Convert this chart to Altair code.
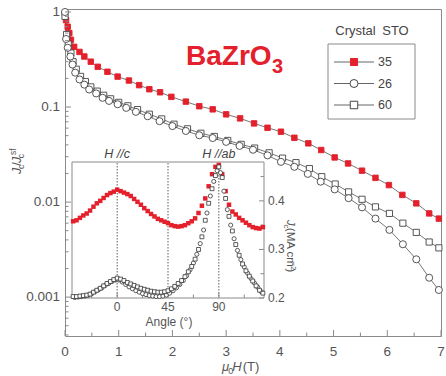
import altair as alt
import pandas as pd

# ---- field dependence of Jc / Jc(self-field), 77 K, H || c ----
red_B = [0, 0.02, 0.05, 0.08, 0.11, 0.17, 0.27, 0.36, 0.48, 0.61,
         0.79, 0.98, 1.19, 1.38, 1.57, 1.77, 1.98, 2.25, 2.5, 2.75,
         3.0, 3.26, 3.52, 3.77, 4.02, 4.27, 4.53, 4.77, 5.02, 5.27,
         5.53, 5.78, 6.03, 6.28, 6.54, 6.78, 6.96]
red_J = [0.97, 0.82, 0.70, 0.60, 0.51, 0.43, 0.38, 0.34, 0.30, 0.265,
         0.235, 0.209, 0.19, 0.17, 0.154, 0.143, 0.128, 0.114, 0.102, 0.0946,
         0.0838, 0.076, 0.0673, 0.0605, 0.055, 0.0475, 0.0415, 0.0353, 0.0295, 0.0255,
         0.0214, 0.018, 0.0151, 0.0119, 0.0097, 0.0076, 0.0067]

c26_B = [0, 0.02, 0.05, 0.1, 0.14, 0.19, 0.27, 0.36, 0.45, 0.58,
         0.7, 0.82, 0.98, 1.14, 1.32, 1.54, 1.76, 2.0, 2.25, 2.5,
         2.75, 3.0, 3.25, 3.5, 3.77, 4.02, 4.27, 4.52, 4.76, 5.02,
         5.28, 5.53, 5.78, 6.04, 6.29, 6.54, 6.78, 6.96]
c26_J = [1.0, 0.52, 0.42, 0.34, 0.28, 0.23, 0.195, 0.172, 0.153, 0.139,
         0.125, 0.116, 0.107, 0.098, 0.089, 0.08, 0.071, 0.063, 0.056, 0.0505,
         0.0472, 0.043, 0.039, 0.0355, 0.031, 0.0265, 0.0235, 0.0198, 0.0164, 0.0136,
         0.011, 0.0088, 0.0067, 0.0051, 0.0036, 0.0025, 0.0016, 0.00119]

s60_B = [0, 0.03, 0.06, 0.11, 0.15, 0.21, 0.29, 0.38, 0.48, 0.6,
         0.72, 0.85, 1.0, 1.17, 1.35, 1.57, 1.8, 2.03, 2.28, 2.53,
         2.78, 3.03, 3.28, 3.53, 3.8, 4.05, 4.3, 4.55, 4.78, 5.03,
         5.28, 5.53, 5.78, 6.04, 6.29, 6.54, 6.78, 6.96]
s60_J = [0.9, 0.58, 0.46, 0.37, 0.30, 0.25, 0.21, 0.185, 0.163, 0.147,
         0.133, 0.122, 0.112, 0.103, 0.094, 0.084, 0.075, 0.066, 0.059, 0.053,
         0.049, 0.0445, 0.0405, 0.037, 0.033, 0.029, 0.026, 0.0225, 0.0185, 0.0155,
         0.0128, 0.0107, 0.0089, 0.0076, 0.006, 0.0048, 0.0038, 0.0033]

# ---- angular dependence of Jc (MA cm^-2), inset ----
ang_red = [-39, -36, -33, -30, -27, -24, -21, -18, -15, -12, -9, -6, -3, 0, 3, 6, 9, 12, 15,
           18, 21, 24, 27, 30, 33, 36, 39, 42, 45, 48, 51, 54, 57, 60, 63, 66, 69, 72, 75,
           78, 81, 84, 87, 90, 93, 96, 99, 102, 105, 108, 111, 114, 117, 120, 123, 126, 129]
jc_red = [0.358, 0.360, 0.365, 0.370, 0.374, 0.380, 0.388, 0.395, 0.400, 0.406, 0.412, 0.416,
          0.419, 0.423, 0.420, 0.417, 0.414, 0.410, 0.404, 0.398, 0.392, 0.385, 0.379, 0.373,
          0.368, 0.363, 0.360, 0.357, 0.354, 0.350, 0.348, 0.347, 0.348, 0.350, 0.354, 0.358,
          0.364, 0.375, 0.390, 0.405, 0.430, 0.455, 0.470, 0.474, 0.455, 0.420, 0.392, 0.378,
          0.372, 0.365, 0.360, 0.355, 0.350, 0.346, 0.344, 0.343, 0.346]
ang_sq = ang_red
jc_sq = [0.203, 0.203, 0.204, 0.205, 0.206, 0.208, 0.212, 0.216, 0.220, 0.225, 0.230, 0.234,
         0.238, 0.241, 0.239, 0.236, 0.232, 0.229, 0.226, 0.223, 0.220, 0.218, 0.216, 0.214,
         0.213, 0.212, 0.212, 0.213, 0.215, 0.219, 0.224, 0.230, 0.236, 0.244, 0.254, 0.265,
         0.280, 0.300, 0.326, 0.360, 0.395, 0.425, 0.452, 0.470, 0.448, 0.405, 0.368, 0.338,
         0.310, 0.288, 0.270, 0.256, 0.245, 0.235, 0.225, 0.216, 0.210]
ang_ci = [-37.5, -34.5, -31.5, -28.5, -25.5, -22.5, -19.5, -16.5, -13.5, -10.5, -7.5, -4.5,
          -1.5, 1.5, 4.5, 7.5, 10.5, 13.5, 16.5, 19.5, 22.5, 25.5, 28.5, 31.5, 34.5, 37.5,
          40.5, 43.5, 46.5, 49.5, 52.5, 55.5, 58.5, 61.5, 64.5, 67.5, 70.5, 73.5, 76.5, 79.5,
          82.5, 85.5, 88.5, 91.5, 94.5, 97.5, 100.5, 103.5, 106.5, 109.5, 112.5, 115.5, 118.5,
          121.5, 124.5, 127.5]
jc_ci = [0.201, 0.202, 0.203, 0.204, 0.206, 0.209, 0.213, 0.217, 0.221, 0.226, 0.230, 0.234,
         0.237, 0.237, 0.233, 0.228, 0.223, 0.219, 0.215, 0.212, 0.209, 0.207, 0.205, 0.204,
         0.203, 0.203, 0.204, 0.206, 0.210, 0.215, 0.221, 0.228, 0.236, 0.246, 0.258, 0.272,
         0.290, 0.312, 0.340, 0.375, 0.410, 0.440, 0.462, 0.458, 0.420, 0.382, 0.350, 0.322,
         0.298, 0.279, 0.264, 0.251, 0.240, 0.231, 0.222, 0.213]

# ---- axis tick values / labels ----
x_major = [0, 1, 2, 3, 4, 5, 6, 7]
x_labels = ["0", "1", "2", "3", "4", "5", "6", "7"]
x_minor = [0.5, 1.5, 2.5, 3.5, 4.5, 5.5, 6.5]
y_major = [0.001, 0.01, 0.1, 1]
y_labels = ["0.001", "0.01", "0.1", "1"]
y_minor = [m * d for d in (0.0001, 0.001, 0.01, 0.1) for m in range(2, 10) if m * d >= 0.0004]
inset_angle_ticks = [0, 45, 90]
inset_angle_labels = ["0", "45", "90"]
inset_angle_minor = [-22.5, 22.5, 67.5, 112.5]
inset_jc_major = [0.2, 0.3, 0.4]
inset_jc_labels = ["0.2", "0.3", "0.4"]
inset_jc_minor = [0.25, 0.35, 0.45]
inset_frame = {"a0": [-40], "a1": [130], "j0": [0.2], "j1": [0.48]}

legend_labels = ["35", "26", "60"]

W, H = 376, 327
FONT = "Liberation Sans Narrow, Arial Narrow, Liberation Sans, Arial, sans-serif"
RED = "#e3202b"
AX = "#8a8a8a"
TXT = "#555555"
MK = "#444444"

one = pd.DataFrame({"k": [0]})

x_main = alt.Scale(domain=[0, 7], nice=False, zero=False)
y_main = alt.Scale(type="log", domain=[0.00039, 1.075], nice=False)
x_in = alt.Scale(domain=[-46.2, 286.7], nice=False, zero=False)
y_in = alt.Scale(domain=[0.1218, 0.795], nice=False, zero=False)


def XM(f):
    return alt.X(f, scale=x_main, axis=None)


def YM(f):
    return alt.Y(f, scale=y_main, axis=None)


def XI(f):
    return alt.X(f, scale=x_in, axis=None)


def YI(f):
    return alt.Y(f, scale=y_in, axis=None)


def txt(s, x, y, size=12, color=TXT, align="left", baseline="alphabetic",
        angle=0, style="normal", weight="normal"):
    return alt.Chart(one).mark_text(
        text=s, fontSize=size, color=color, align=align, baseline=baseline,
        angle=angle, font=FONT, fontStyle=style, fontWeight=weight,
    ).encode(x=alt.value(x), y=alt.value(y))


layers = []

# ---------------- main panel ----------------
series = [
    (red_B, red_J, "square", RED, RED, 30),
    (s60_B, s60_J, "square", "white", MK, 38),
    (c26_B, c26_J, "circle", "white", MK, 50),
]
for B, J, shape, fill, stroke, size in series:
    df = pd.DataFrame({"B": B, "J": J})
    layers.append(alt.Chart(df).mark_line(color="#666666", strokeWidth=0.9).encode(
        x=XM("B:Q"), y=YM("J:Q")))
for B, J, shape, fill, stroke, size in series:
    df = pd.DataFrame({"B": B, "J": J})
    layers.append(alt.Chart(df).mark_point(
        shape=shape, filled=True, fill=fill, stroke=stroke, strokeWidth=0.9,
        size=size, opacity=1).encode(x=XM("B:Q"), y=YM("J:Q")))

# inward ticks and tick labels of the main panel
for vals, ln in ((x_major, 6), (x_minor, 3.5)):
    layers.append(alt.Chart(pd.DataFrame({"B": vals})).mark_rule(
        color=AX, strokeWidth=1).encode(x=XM("B:Q"), y=alt.value(H), y2=alt.value(H - ln)))
for vals, ln in ((y_major, 6), (y_minor, 3.5)):
    layers.append(alt.Chart(pd.DataFrame({"J": vals})).mark_rule(
        color=AX, strokeWidth=1).encode(y=YM("J:Q"), x=alt.value(0), x2=alt.value(ln)))
layers.append(alt.Chart(pd.DataFrame({"B": x_major, "t": x_labels})).mark_text(
    fontSize=13.5, color=TXT, font=FONT, align="center", baseline="top").encode(
    x=XM("B:Q"), y=alt.value(H + 9), text="t:N"))
layers.append(alt.Chart(pd.DataFrame({"J": y_major, "t": y_labels})).mark_text(
    fontSize=13.5, color=TXT, font=FONT, align="right", baseline="middle").encode(
    y=YM("J:Q"), x=alt.value(-5), text="t:N"))

# ---------------- inset ----------------
layers.append(alt.Chart(pd.DataFrame(inset_frame)).mark_rect(
    fill="white", stroke=AX, strokeWidth=1).encode(
    x=XI("a0:Q"), x2="a1:Q", y=YI("j0:Q"), y2="j1:Q"))
layers.append(alt.Chart(pd.DataFrame({"a": inset_angle_ticks})).mark_rule(
    color="#333333", strokeWidth=0.8, strokeDash=[1.5, 1.5]).encode(
    x=XI("a:Q"), y=alt.value(154), y2=alt.value(289)))
for vals, ln in ((inset_angle_ticks, 5), (inset_angle_minor, 3.5)):
    layers.append(alt.Chart(pd.DataFrame({"a": vals})).mark_rule(
        color=AX, strokeWidth=1).encode(x=XI("a:Q"), y=alt.value(289), y2=alt.value(289 - ln)))
for vals, ln in ((inset_jc_major, 5), (inset_jc_minor, 3.5)):
    layers.append(alt.Chart(pd.DataFrame({"j": vals})).mark_rule(
        color=AX, strokeWidth=1).encode(y=YI("j:Q"), x=alt.value(199), x2=alt.value(199 - ln)))

layers.append(alt.Chart(pd.DataFrame({"a": ang_red, "j": jc_red})).mark_point(
    shape="square", filled=True, color=RED, size=20, opacity=1).encode(
    x=XI("a:Q"), y=YI("j:Q")))
layers.append(alt.Chart(pd.DataFrame({"a": ang_ci, "j": jc_ci})).mark_point(
    shape="circle", filled=True, fill="white", stroke="#333333", strokeWidth=0.8,
    size=17, opacity=1).encode(x=XI("a:Q"), y=YI("j:Q")))
layers.append(alt.Chart(pd.DataFrame({"a": ang_sq, "j": jc_sq})).mark_point(
    shape="square", filled=True, fill="white", stroke="#333333", strokeWidth=0.8,
    size=15, opacity=1).encode(x=XI("a:Q"), y=YI("j:Q")))

layers.append(alt.Chart(pd.DataFrame({"a": inset_angle_ticks, "t": inset_angle_labels})).mark_text(
    fontSize=12, color=TXT, font=FONT, baseline="middle", align="center").encode(
    x=XI("a:Q"), y=alt.value(298), text="t:N"))
layers.append(alt.Chart(pd.DataFrame({"j": inset_jc_major, "t": inset_jc_labels})).mark_text(
    fontSize=12, color=TXT, font=FONT, baseline="middle", align="left").encode(
    y=YI("j:Q"), x=alt.value(203), text="t:N"))
layers.append(alt.Chart(pd.DataFrame({"a": [0, 90], "t": ["H //c", "H //ab"]})).mark_text(
    fontSize=12.5, color="#444444", font=FONT, fontStyle="italic", baseline="middle",
    align="center").encode(x=XI("a:Q"), y=alt.value(145), text="t:N"))

# ---------------- titles, legend, annotation ----------------
layers.append(txt("Angle (\u00b0)", 104, 313, size=12, align="center", baseline="middle"))

# x-axis title  μ0H (T)
layers += [
    txt("\u03bc", 157, 362, size=13, style="italic"),
    txt("0", 163.3, 365, size=9),
    txt("H", 167.2, 362, size=13, style="italic"),
    txt("(T)", 177.7, 362, size=13),
]
# y-axis title  Jc/Jc^sf  (rotated)
layers += [
    txt("J", -44, 165, size=12.5, angle=270, style="italic"),
    txt("c", -41, 160.1, size=8.5, angle=270),
    txt("/", -44, 156.8, size=12.5, angle=270),
    txt("J", -44, 154.1, size=12.5, angle=270, style="italic"),
    txt("c", -41, 149.2, size=8.5, angle=270),
    txt("sf", -49, 145.9, size=8.5, angle=270),
]
# inset right-hand title  Jc (MA cm^-2)
layers += [
    txt("J", 222, 211, size=11.5, angle=90, style="italic"),
    txt("c", 219, 215.5, size=8, angle=90),
    txt(" (MA cm", 222, 218.8, size=11.5, angle=90),
    txt("\u22122", 226, 252.4, size=8, angle=90),
    txt(")", 222, 259.4, size=11.5, angle=90),
]
# compound label
layers += [
    txt("BaZrO", 121, 56, size=28, color=RED, weight="bold"),
    txt("3", 207, 64, size=20, color=RED, weight="bold"),
]
# legend
layers.append(txt("Crystal\u2002STO", 307, 22, size=13, color="#444444",
                  align="center", baseline="middle"))
layers.append(alt.Chart(one).mark_rect(fill="white", stroke=AX, strokeWidth=1).encode(
    x=alt.value(263), x2=alt.value(350), y=alt.value(35), y2=alt.value(110)))
leg_style = [("square", RED, RED, 50), ("circle", "white", MK, 64), ("square", "white", MK, 56)]
for k, (lab, (shape, fill, stroke, size)) in enumerate(zip(legend_labels, leg_style)):
    yy = 53 + k * 21.5
    layers.append(alt.Chart(one).mark_rule(color="#666666", strokeWidth=1).encode(
        x=alt.value(269), x2=alt.value(309), y=alt.value(yy)))
    layers.append(alt.Chart(one).mark_point(
        shape=shape, filled=True, fill=fill, stroke=stroke, strokeWidth=1,
        size=size, opacity=1).encode(x=alt.value(289), y=alt.value(yy)))
    layers.append(txt(lab, 313, yy, size=12.5, color="#444444", baseline="middle"))

chart = alt.layer(*layers).resolve_scale(
    x="independent", y="independent"
).properties(
    width=W, height=H,
    padding={"left": 65, "top": 9, "right": 5, "bottom": 40},
    autosize=alt.AutoSizeParams(type="none"),
    background="white",
).configure_view(stroke=AX, strokeWidth=1)

chart.save("out.html", embed_options={"renderer": "svg", "actions": False})
